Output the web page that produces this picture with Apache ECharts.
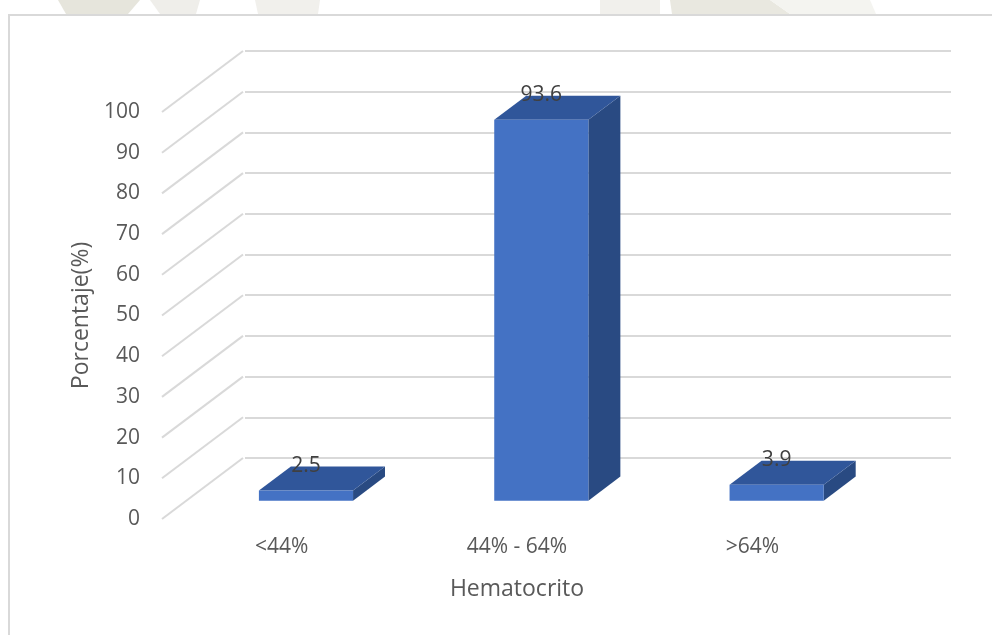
<!DOCTYPE html>
<html>
<head>
<meta charset="utf-8">
<script src="https://cdn.jsdelivr.net/npm/echarts@6/dist/echarts.min.js"></script>
<style>
html,body{margin:0;padding:0;background:#ffffff;}
#chart{width:992px;height:635px;}
</style>
</head>
<body>
<div id="chart"></div>
<script>
// ---- data ----
const categories = ['<44%', '44% - 64%', '>64%'];
const values = [2.5, 93.6, 3.9];
const yTicks = [0, 10, 20, 30, 40, 50, 60, 70, 80, 90, 100];
const yAxisName = 'Porcentaje(%)';
const xAxisName = 'Hematocrito';

// ---- style constants ----
const FONT = 'Open Sans';
const TXT = '#595959';
const GRIDC = '#d9d9d9';
const DX = 81, DY = -61;          // depth offset from front plane to back wall
const F0 = 0.30, F1 = 0.695;      // bar depth position (front / back fraction)
const BAR_RATIO = 0.40;
const FRONT = '#4472C4', TOP = '#30569A', SIDE = '#294A82';

const yMin = yTicks[0], yMax = yTicks[yTicks.length - 1], yInt = yTicks[1] - yTicks[0];

const chart = echarts.init(document.getElementById('chart'), null, {renderer: 'canvas'});

const option = {
  backgroundColor: '#ffffff',
  animation: false,
  graphic: [
    // faint watermark band above the frame
    {type: 'polygon', z: -10, shape: {points: [[58,0],[140,0],[128,14],[66,14]]}, style: {fill: '#e6e5dc'}},
    {type: 'polygon', z: -10, shape: {points: [[150,0],[200,0],[196,14],[160,14]]}, style: {fill: '#efeeea'}},
    {type: 'polygon', z: -10, shape: {points: [[255,0],[320,0],[318,14],[258,14]]}, style: {fill: '#f1f0ec'}},
    {type: 'polygon', z: -10, shape: {points: [[600,0],[660,0],[660,14],[600,14]]}, style: {fill: '#f1f0ec'}},
    {type: 'polygon', z: -10, shape: {points: [[670,0],[770,0],[790,14],[672,14]]}, style: {fill: '#e9e8e0'}},
    {type: 'polygon', z: -10, shape: {points: [[770,0],[870,0],[876,14],[790,14]]}, style: {fill: '#f4f4f0'}},
    // chart frame
    {type: 'rect', z: -5, shape: {x: 9, y: 15, width: 1000, height: 700},
     style: {fill: '#ffffff', stroke: GRIDC, lineWidth: 2}}
  ],
  grid: [
    {left: 164 + DX, right: 122 - DX, top: 112 + DY, bottom: 116 - DY, outerBoundsMode: 'none', containLabel: false},
    {left: 164, right: 122, top: 112, bottom: 116, outerBoundsMode: 'none', containLabel: false}
  ],
  xAxis: [
    {type: 'category', gridIndex: 0, data: categories, show: false},
    {type: 'category', gridIndex: 1, data: categories,
     axisLine: {show: false}, axisTick: {show: false}, splitLine: {show: false},
     axisLabel: {color: TXT, fontFamily: FONT, fontSize: 21, margin: 18},
     name: xAxisName, nameLocation: 'middle', nameGap: 59,
     nameTextStyle: {color: TXT, fontFamily: FONT, fontSize: 23}}
  ],
  yAxis: [
    {type: 'value', gridIndex: 0, min: yMin, max: yMax, interval: yInt,
     axisLine: {show: false}, axisTick: {show: false}, axisLabel: {show: false},
     splitLine: {show: true, lineStyle: {color: GRIDC, width: 2}}},
    {type: 'value', gridIndex: 1, min: yMin, max: yMax, interval: yInt,
     axisLine: {show: false}, axisTick: {show: false}, splitLine: {show: false},
     axisLabel: {color: TXT, fontFamily: FONT, fontSize: 21, margin: 24},
     name: yAxisName, nameLocation: 'middle', nameGap: 69, nameRotate: 90,
     nameTextStyle: {color: TXT, fontFamily: FONT, fontSize: 23}}
  ],
  series: [
    {
      // side-wall diagonals linking front ticks to the back wall grid lines
      type: 'custom', xAxisIndex: 1, yAxisIndex: 1, z: 1, silent: true,
      data: yTicks.map(v => [0, v]),
      renderItem: function (params, api) {
        const v = api.value(1);
        const p = api.coord([0, v]);
        const x = params.coordSys.x - 2;
        return {
          type: 'line',
          shape: {x1: x, y1: p[1], x2: x + DX, y2: p[1] + DY},
          style: {stroke: GRIDC, lineWidth: 2}
        };
      }
    },
    {
      type: 'custom', xAxisIndex: 1, yAxisIndex: 1, z: 5, silent: true,
      data: values.map((v, i) => [i, v]),
      renderItem: function (params, api) {
        const i = api.value(0), v = api.value(1);
        const base = api.coord([i, 0]);
        const top = api.coord([i, v]);
        const bw = api.size([1, 0])[0] * BAR_RATIO;
        const ox = DX * F0, oy = DY * F0;
        const dx = DX * (F1 - F0), dy = DY * (F1 - F0);
        const x0 = base[0] - bw / 2 + ox, x1 = x0 + bw;
        const yb = base[1] + oy, yt = top[1] + oy;
        return {
          type: 'group',
          children: [
            {type: 'polygon', shape: {points: [[x1, yt], [x1 + dx, yt + dy], [x1 + dx, yb + dy], [x1, yb]]},
             style: {fill: SIDE}},
            {type: 'polygon', shape: {points: [[x0, yt], [x1, yt], [x1 + dx, yt + dy], [x0 + dx, yt + dy]]},
             style: {fill: TOP}},
            {type: 'rect', shape: {x: x0, y: yt, width: bw, height: yb - yt},
             style: {fill: FRONT}},
            {type: 'text', style: {text: String(v), x: x0 + bw / 2, y: yt - 25,
              align: 'center', verticalAlign: 'middle', fill: '#404040',
              font: '21px "' + FONT + '"'}, z2: 10}
          ]
        };
      }
    }
  ]
};

chart.setOption(option);
</script>
</body>
</html>
